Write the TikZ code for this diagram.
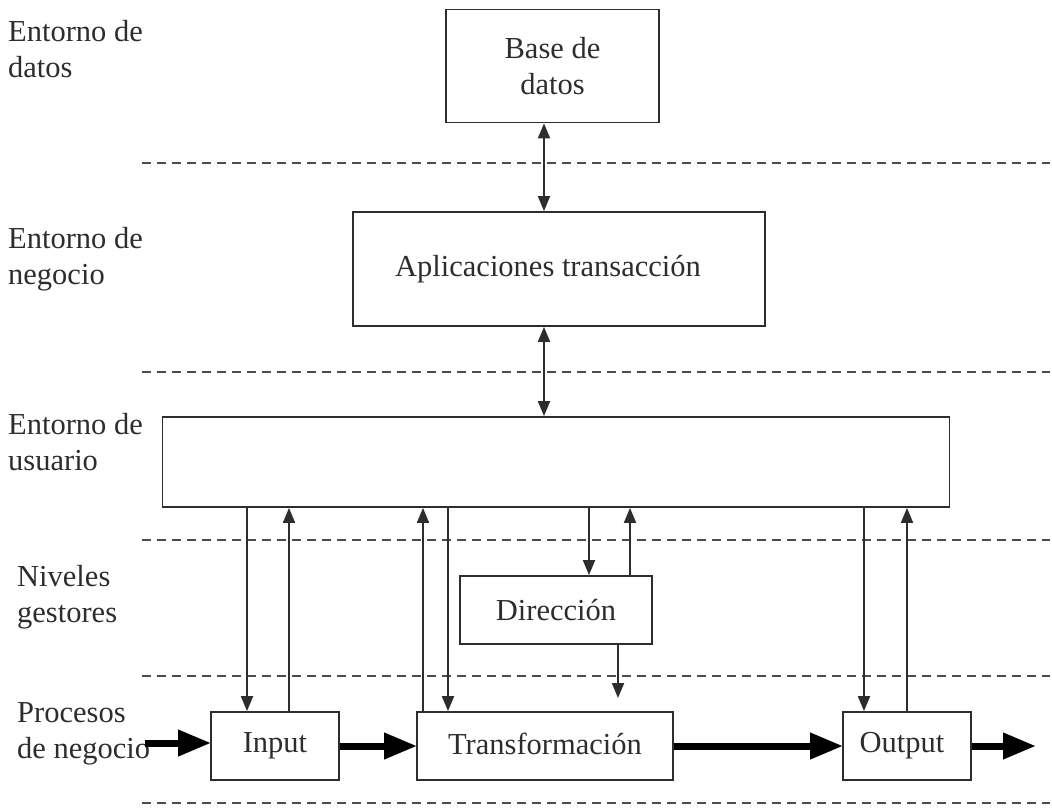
\documentclass[tikz,border=0pt]{standalone}
\usepackage{fontspec}
\setmainfont{Liberation Serif}
\usetikzlibrary{arrows.meta}
\definecolor{ink}{RGB}{45,45,45}
\begin{document}
\begin{tikzpicture}[x=1pt,y=-1pt,
  every node/.style={text=ink,font=\fontsize{30.5}{36}\selectfont},
  box/.style={draw=ink,line width=1.8pt,inner sep=0pt},
  lbl/.style={anchor=west,align=left,inner sep=0pt},
  sep/.style={draw=ink!85,line width=1.8pt,dash pattern=on 9pt off 6pt},
  thin/.style={draw=ink,line width=1.9pt,-{Triangle[length=15pt,width=12pt]}},
  both/.style={draw=ink,line width=1.9pt,{Triangle[length=15pt,width=12pt]}-{Triangle[length=15pt,width=12pt]}},
  thick/.style={draw=black,line width=7pt,-{Triangle[length=33pt,width=25pt]},shorten >=-1pt}]
\useasboundingbox (0,0) rectangle (1052,808);

% layer separators
\foreach \y in {163,372,540,676,803}
  \draw[sep] (142,\y) -- (1050,\y);

% layer labels
\node[lbl] (l1) at (8,49)  {Entorno de\\datos};
\node[lbl] (l2) at (8,259) {Entorno de\\negocio};
\node[lbl] (l3) at (8,442) {Entorno de\\usuario};
\node[lbl] (l4) at (17,597) {Niveles\\gestores};
\node[lbl] (l5) at (17,734) {Procesos\\de negocio};

% boxes
\node[box,minimum width=213pt,minimum height=113pt,align=center] (db) at (552.5,66) {Base de\\datos};
\node[box,minimum width=412pt,minimum height=114pt] (app) at (559,269) {Aplicaciones transacción\hspace*{22pt}};
\node[box,minimum width=787pt,minimum height=90pt] (usr) at (556,462) {};
\node[box,minimum width=192pt,minimum height=68pt] (dir) at (556,610) {Dirección};
\node[box,minimum width=128pt,minimum height=68pt] (inp) at (275,746) {\raisebox{4pt}{Input}};
\node[box,minimum width=256pt,minimum height=68pt] (tra) at (545,746) {\raisebox{4pt}{Transformación}};
\node[box,minimum width=128pt,minimum height=68pt] (out) at (907,746) {\raisebox{5pt}{Output}\hspace*{10pt}};

% column positions of the vertical links
\coordinate (c1) at (544,0);
\coordinate (a1) at (247,0);
\coordinate (a2) at (289,0);
\coordinate (b1) at (423,0);
\coordinate (b2) at (448,0);
\coordinate (d1) at (589,0);
\coordinate (d2) at (630,0);
\coordinate (d3) at (618,0);
\coordinate (d3end) at (618,698);
\coordinate (o1) at (864,0);
\coordinate (o2) at (907,0);

% vertical links
\draw[both] (db.south -| c1) -- (app.north -| c1);
\draw[both] (app.south -| c1) -- (usr.north -| c1);
\draw[thin] (usr.south -| a1) -- (inp.north -| a1);
\draw[thin] (inp.north -| a2) -- (usr.south -| a2);
\draw[thin] (tra.north -| b1) -- (usr.south -| b1);
\draw[thin] (usr.south -| b2) -- (tra.north -| b2);
\draw[thin] (usr.south -| d1) -- (dir.north -| d1);
\draw[thin] (dir.north -| d2) -- (usr.south -| d2);
\draw[thin] (dir.south -| d3) -- (d3end);
\draw[thin] (usr.south -| o1) -- (out.north -| o1);
\draw[thin] (out.north -| o2) -- (usr.south -| o2);

% main process flow
\coordinate (start) at (145,743);
\coordinate (finish) at (1035,746);
\draw[thick] (start) -- (inp.west |- start);
\draw[thick] (inp.east) -- (tra.west);
\draw[thick] (tra.east) -- (out.west);
\draw[thick] (out.east) -- (finish);
\end{tikzpicture}
\end{document}
